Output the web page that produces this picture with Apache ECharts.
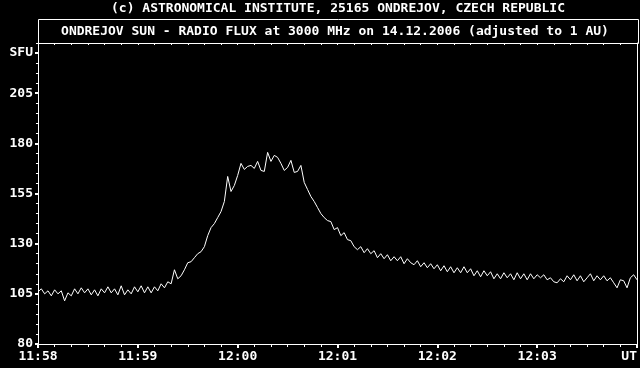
<!DOCTYPE html>
<html>
<head>
<meta charset="utf-8">
<script src="https://cdn.jsdelivr.net/npm/echarts@6/dist/echarts.min.js"></script>
<style>
html,body{margin:0;padding:0;background:#000;}
#chart{width:640px;height:368px;}
</style>
</head>
<body>
<div id="chart"></div>
<script>
// ---- data ----
const headerText = '(c) ASTRONOMICAL INSTITUTE, 25165 ONDREJOV, CZECH REPUBLIC';
const titleText = 'ONDREJOV SUN - RADIO FLUX at 3000 MHz on 14.12.2006 (adjusted to 1 AU)';
const timeLabels = ['11:58', '11:59', '12:00', '12:01', '12:02', '12:03', 'UT'];
const yTickValues = [80, 105, 130, 155, 180, 205];
const yUnitLabel = 'SFU';
const yUnitValue = 225;
const sampleStepSeconds = 2;   // seconds after 11:58:00 between samples
const fluxSFU = [
  106, 107.5, 105, 106.5, 104, 107, 105, 106.5, 101.5, 105.5,
  104, 107.5, 105, 108, 105.5, 107.5, 104.5, 107, 104, 107.5,
  105.5, 108.5, 105.5, 107.5, 104.5, 109, 104.5, 107, 105, 108.5,
  106, 109, 105.5, 108.5, 105.5, 108.5, 106.5, 110, 108, 111,
  110, 117, 112.5, 114, 117, 120.5, 121, 123, 125, 126,
  128.5, 134, 138, 140, 143, 146, 151, 163.5, 156, 159,
  164, 170, 167, 168.5, 169, 167.5, 171, 166.5, 166, 175.5,
  171, 174, 173, 170, 166.5, 168, 171.5, 165.5, 166, 169,
  160.5, 157, 153.5, 151, 148, 145, 143, 141.5, 141, 137,
  138, 134, 135.5, 132, 131.5, 128.5, 127, 128.5, 125.5, 127.5,
  125, 126.5, 123, 125, 122.5, 124.5, 121.5, 123.5, 121.5, 123.5,
  120, 122.5, 120.5, 119.5, 121.5, 118.5, 120.5, 118, 120, 117.5,
  119.5, 116.5, 119, 116, 118.5, 115.5, 118, 115.5, 118.5, 115.5,
  117.5, 114, 116.5, 113.5, 116.5, 114, 116, 112.5, 115, 112.5,
  115.5, 113, 115, 112, 115.5, 112.5, 115, 112, 115, 112.5,
  114.5, 113, 114.5, 112, 113, 111, 110.5, 112.5, 111, 114,
  112, 114.5, 111.5, 114, 111, 113, 115, 111.5, 114, 112,
  114, 111.5, 113, 110.5, 108, 112, 111.5, 108, 113, 114.5,
  112
];

// ---- chart ----
const FONT = '"DejaVu Sans Mono", "Liberation Mono", monospace';
const seriesData = fluxSFU.map((v, i) => [i * sampleStepSeconds, v]);
const xMax = (timeLabels.length - 1) * 60;
const labelValues = yTickValues.concat([yUnitValue]);

const chart = echarts.init(document.getElementById('chart'), null, {renderer: 'canvas'});
chart.setOption({
  animation: false,
  backgroundColor: '#000',
  title: [
    {text: headerText, left: 338, top: 2, padding: 0, textAlign: 'center',
     textStyle: {color: '#fff', fontFamily: FONT, fontSize: 13, fontWeight: 'bold'}},
    {text: titleText, left: 335, top: 25, padding: 0, textAlign: 'center',
     textStyle: {color: '#fff', fontFamily: FONT, fontSize: 13, fontWeight: 'bold'}}
  ],
  graphic: [
    {type: 'rect', shape: {x: 38.5, y: 19.5, width: 600, height: 24},
     style: {fill: null, stroke: '#fff', lineWidth: 1}, silent: true}
  ],
  grid: {left: 38, top: 43, width: 600, height: 301, containLabel: false},
  xAxis: [
    {type: 'value', min: 0, max: xMax, interval: 60, position: 'bottom',
     axisLine: {show: true, onZero: false, lineStyle: {color: '#fff', width: 1}},
     axisTick: {show: true, length: 4, lineStyle: {color: '#fff', width: 2}},
     minorTick: {show: true, splitNumber: 6, length: 3, lineStyle: {color: '#fff', width: 1}},
     axisLabel: {color: '#fff', fontFamily: FONT, fontSize: 13, fontWeight: 'bold', margin: 6,
       alignMaxLabel: 'right',
       formatter: v => timeLabels[Math.round(v / 60)]},
     splitLine: {show: false}, minorSplitLine: {show: false}},
    {type: 'value', min: 0, max: xMax, interval: 60, position: 'top',
     axisLine: {show: true, onZero: false, lineStyle: {color: '#fff', width: 1}},
     axisTick: {show: true, inside: true, length: 2, lineStyle: {color: '#fff', width: 1}},
     minorTick: {show: true, splitNumber: 6, length: 2, lineStyle: {color: '#fff', width: 1}},
     axisLabel: {show: false}, splitLine: {show: false}}
  ],
  yAxis: [
    {type: 'value', min: 80, max: 230, position: 'left',
     axisLine: {show: true, onZero: false, lineStyle: {color: '#fff', width: 1}},
     axisTick: {show: true, length: 3, customValues: labelValues, lineStyle: {color: '#fff', width: 2}},
     axisLabel: {show: true, customValues: labelValues, color: '#fff', fontFamily: FONT,
       fontSize: 13, fontWeight: 'bold', margin: 5,
       formatter: v => (v === yUnitValue ? yUnitLabel : String(v))},
     splitLine: {show: false}},
    {type: 'value', min: 80, max: 230, interval: 5, position: 'left',
     axisLine: {show: false},
     axisTick: {show: true, length: 2, lineStyle: {color: '#fff', width: 1}},
     axisLabel: {show: false}, splitLine: {show: false}},
    {type: 'value', min: 80, max: 230, position: 'right',
     axisLine: {show: true, onZero: false, lineStyle: {color: '#fff', width: 1}},
     axisTick: {show: false}, axisLabel: {show: false}, splitLine: {show: false}}
  ],
  series: [{
    type: 'line', xAxisIndex: 0, yAxisIndex: 0, data: seriesData,
    showSymbol: false, symbol: 'none', smooth: false,
    lineStyle: {color: '#fff', width: 1}
  }]
});
</script>
</body>
</html>
